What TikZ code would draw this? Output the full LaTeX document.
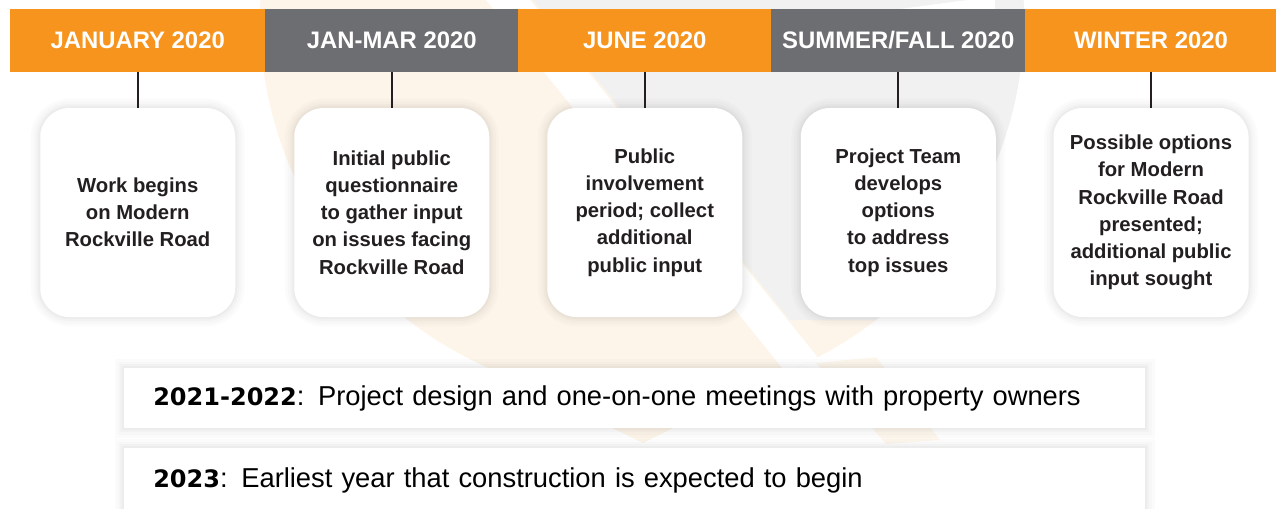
\documentclass[tikz,border=0pt]{standalone}
\usepackage{fontspec}
\setmainfont{Liberation Sans}
\newfontfamily\heavyfont{DejaVu Sans}
\definecolor{tlorange}{HTML}{F7941D}
\definecolor{tlgrey}{HTML}{6D6E71}
\definecolor{txtdark}{HTML}{231F20}
\definecolor{wmorange}{HTML}{FEF5EA}
\definecolor{wmgrey}{HTML}{F1F1F1}
\tikzset{
  softshadow/.style={
    preaction={draw=black, draw opacity=0.016, line width=14pt},
    preaction={draw=black, draw opacity=0.016, line width=10pt},
    preaction={draw=black, draw opacity=0.02, line width=6pt},
    preaction={draw=black, draw opacity=0.022, line width=3pt}},
  hdr/.style={inner sep=0pt, minimum height=47.25pt, text=white,
    font=\fontsize{17.9}{20}\selectfont\bfseries},
  eventbox/.style={softshadow, fill=white, rounded corners=22pt, minimum width=146.25pt,
    minimum height=156.75pt, inner sep=0pt, align=center, text=txtdark,
    font=\fontsize{15.2}{20.4}\selectfont\bfseries},
  barbox/.style={softshadow, fill=white, anchor=north west, minimum height=45pt,
    inner xsep=21.75pt, inner ysep=0pt, text width=722.25pt, align=left,
    text=black, font=\fontsize{20.5}{24}\selectfont},
  conn/.style={draw=txtdark, line width=1.2pt}
}
\newcommand{\yrtext}[1]{{\heavyfont\bfseries\fontsize{18}{24}\selectfont #1}}
\begin{document}
\begin{tikzpicture}[x=0.75pt, y=-0.75pt]
\useasboundingbox (0,0) rectangle (1276,508);
% watermark
\begin{scope}
  \clip (0,0) rectangle (1276,508);
  \fill[wmorange] (642,18) circle[radius=382];
  \fill[wmorange] (643,443) -- (474.5,361) -- (642,18) -- (809.5,361) -- cycle;
  \fill[wmorange, opacity=0.8] (816,363) -- (876,357) -- (940,440) -- (886,444) -- cycle;
  \begin{scope}
    \clip (642,18) circle[radius=382];
    \fill[wmgrey] (517,-20) -- (790,320) -- (1100,320) -- (1100,-20) -- cycle;
    \fill[white] (470,-20) -- (514,-20) -- (852,400) -- (808,400) -- cycle;
    \fill[white] (900,9) -- (975,-1) -- (995,-1) -- (995,9) -- cycle;
  \end{scope}
\end{scope}
% header bar
\node[hdr, fill=tlorange, minimum width=191.6pt] (h1) at (137.75,40.5) {JANUARY 2020};
\node[hdr, fill=tlgrey,   minimum width=190.1pt] (h2) at (391.75,40.5) {JAN-MAR 2020};
\node[hdr, fill=tlorange, minimum width=190.1pt] (h3) at (644.75,40.5) {JUNE 2020};
\node[hdr, fill=tlgrey,   minimum width=190.9pt] (h4) at (898.25,40.5) {SUMMER/FALL 2020};
\node[hdr, fill=tlorange, minimum width=189pt]   (h5) at (1151,40.5) {WINTER 2020};
% boxes
\node[eventbox] (b1) at (137.75,212.5) {Work begins\\on Modern\\Rockville Road};
\node[eventbox] (b2) at (391.75,212.5) {Initial public\\questionnaire\\to gather input\\on issues facing\\Rockville Road};
\node[eventbox] (b3) at (644.75,212.5) {Public\\involvement\\period; collect\\additional\\public input};
\node[eventbox] (b4) at (898.25,212.5) {Project Team\\develops\\options\\to address\\top issues};
\node[eventbox] (b5) at (1151,212.5) {Possible options\\for Modern\\Rockville Road\\presented;\\additional public\\input sought};
% connectors
\foreach \i in {1,...,5} { \draw[conn] (h\i.south) -- (b\i.north); }
% bottom bars
\node[barbox] (r1) at (124,368) {\yrtext{2021-2022}: Project design and one-on-one meetings with property owners};
\node[barbox, minimum height=48pt] (r2) at (124,448) {\yrtext{2023}: Earliest year that construction is expected to begin};
\end{tikzpicture}
\end{document}
